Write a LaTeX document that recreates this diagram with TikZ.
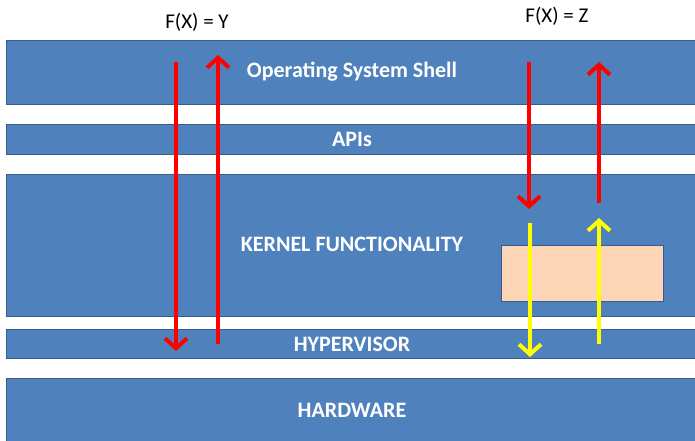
\documentclass[tikz,border=0pt]{standalone}
\usepackage{fontspec}
\setmainfont{Carlito}
\usetikzlibrary{arrows.meta}
\definecolor{barblue}{HTML}{4F81BD}
\definecolor{barline}{HTML}{385D8A}
\definecolor{peach}{HTML}{FBD5B5}
\definecolor{redarr}{HTML}{FF0000}
\definecolor{yelarr}{HTML}{FFFF00}
\tikzset{
  layer/.style={draw=barline, fill=barblue, line width=1.3pt, inner sep=0pt,
    anchor=north west, minimum width=720pt},
  layertext/.style={text=white, font=\fontsize{22}{22}\selectfont\bfseries, inner sep=0pt},
  formula/.style={font=\fontsize{21}{21}\selectfont, text=black, inner sep=0pt},
  redflow/.style={draw=redarr, line width=4pt, -{Straight Barb[length=10pt,width=22pt,line width=4pt]}},
  yelflow/.style={draw=yelarr, line width=4pt, -{Straight Barb[length=10pt,width=22pt,line width=4pt]}},
}
\begin{document}
\begin{tikzpicture}[x=1pt,y=-1pt]
\useasboundingbox (0,0) rectangle (695,441);
\clip (0,0) rectangle (695,441);
\fill[white] (0,0) rectangle (695,441);
% layers
\node[layer, minimum height=64pt] (shell) at (6,40) {};
\node[layertext] (shellt) at (352,72) {Operating System Shell};
\node[layer, minimum height=30pt] (apis) at (6,124) {};
\node[layertext] (apist) at (352,139) {APIs};
\node[layer, minimum height=142pt] (kernel) at (6,174) {};
\node[layertext] (kernelt) at (352,244) {KERNEL FUNCTIONALITY};
\node[layer, minimum height=29pt] (hyper) at (6,329) {};
\node[layertext] (hypert) at (352,344) {HYPERVISOR};
\node[layer, minimum height=80pt] (hw) at (6,378) {};
\node[layertext] (hwt) at (352,410) {HARDWARE};
% peach box
\node[draw=barline, fill=peach, line width=1.3pt, anchor=north west, minimum width=162pt, minimum height=56pt, inner sep=0pt] (box) at (501,245) {};
% formulas
\node[formula] (fy) at (197,22) {F(X) = Y};
\node[formula] (fz) at (557,16) {F(X) = Z};
% arrow endpoints
\coordinate (a1s) at (176,62);  \coordinate (a1e) at (176,351);
\coordinate (a2s) at (218,344); \coordinate (a2e) at (218,55);
\coordinate (a3s) at (529,62);  \coordinate (a3e) at (529,209);
\coordinate (a4s) at (599,203); \coordinate (a4e) at (599,62);
\coordinate (a5s) at (530,223); \coordinate (a5e) at (530,357);
\coordinate (a6s) at (599,344); \coordinate (a6e) at (599,218);
\draw[redflow] (a1s) -- (a1e);
\draw[redflow] (a2s) -- (a2e);
\draw[redflow] (a3s) -- (a3e);
\draw[redflow] (a4s) -- (a4e);
\draw[yelflow] (a5s) -- (a5e);
\draw[yelflow] (a6s) -- (a6e);
\end{tikzpicture}
\end{document}
